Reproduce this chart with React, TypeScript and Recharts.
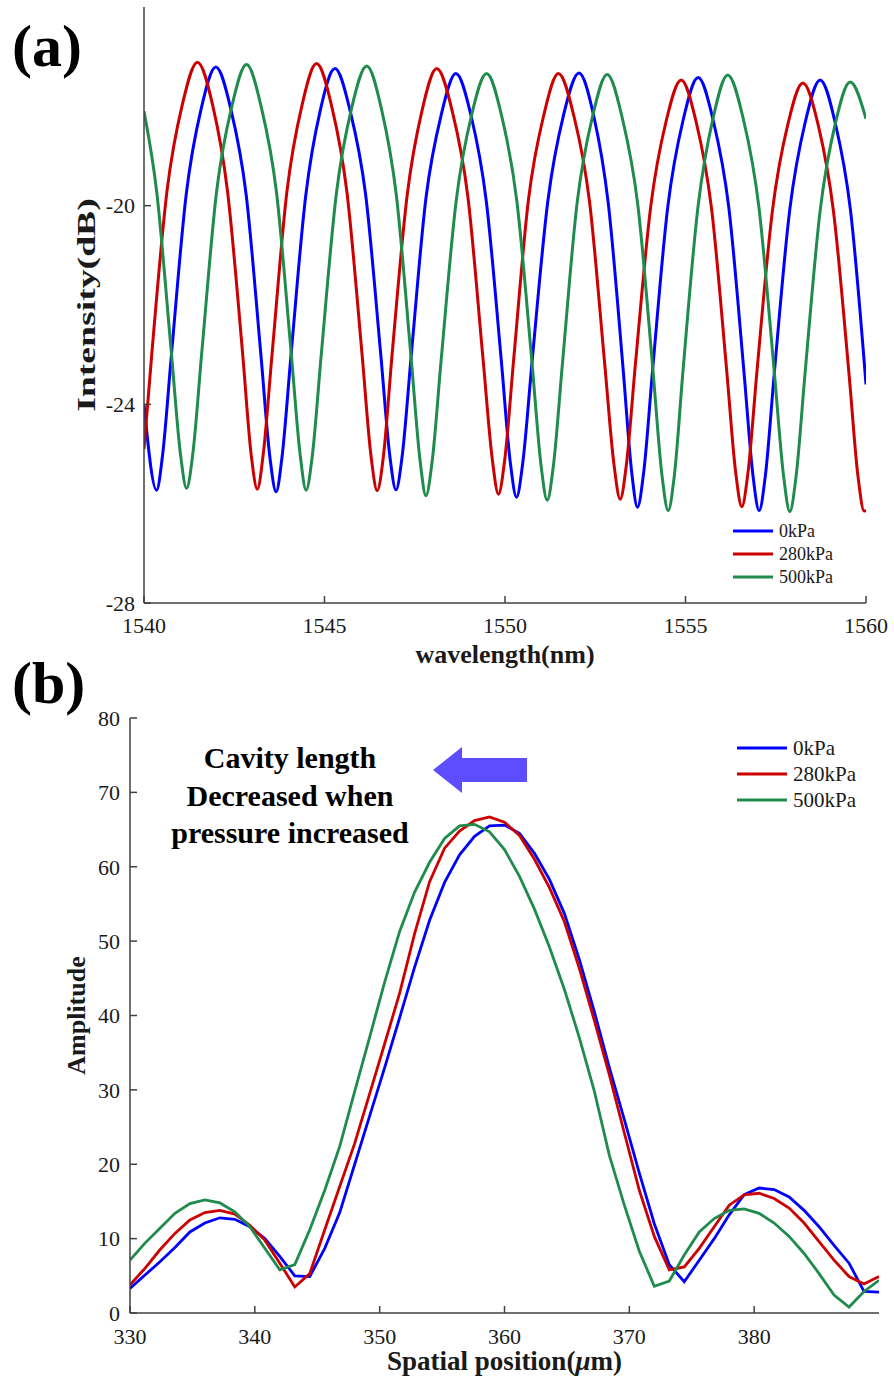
import React from 'react';
import { LineChart, Line, XAxis, YAxis, Legend, Label } from 'recharts';

const FONT = "'Liberation Serif', 'Times New Roman', Times, serif";
const AXIS = '#404040';
const TXT = '#1a1a1a';
const BLUE = '#0000ff';
const RED = '#cc0000';
const GREEN = '#1f8b4c';

// ---------- (a) spectrum ----------
const wavelengthTicks = [1540, 1545, 1550, 1555, 1560];
const intensityTicks = [-28, -24, -20];

const wl0kPa = [1540.00, 1540.35, 1540.51, 1540.76, 1541.17, 1541.58, 1541.99, 1542.41, 1542.83, 1543.24, 1543.49, 1543.66, 1543.82, 1544.07, 1544.48, 1544.88, 1545.29, 1545.71, 1546.14, 1546.56, 1546.81, 1546.98, 1547.15, 1547.40, 1547.81, 1548.23, 1548.64, 1549.06, 1549.48, 1549.90, 1550.15, 1550.32, 1550.49, 1550.75, 1551.19, 1551.62, 1552.05, 1552.46, 1552.86, 1553.27, 1553.51, 1553.67, 1553.84, 1554.09, 1554.51, 1554.93, 1555.35, 1555.77, 1556.20, 1556.62, 1556.87, 1557.04, 1557.21, 1557.46, 1557.89, 1558.31, 1558.73, 1559.15, 1559.57, 1560.00];
const db0kPa = [-24.00, -25.73, -25.05, -23.00, -19.77, -18.06, -17.21, -18.07, -19.78, -23.02, -25.08, -25.76, -25.08, -23.03, -19.80, -18.09, -17.24, -18.09, -19.78, -23.01, -25.04, -25.72, -25.05, -23.04, -19.85, -18.18, -17.34, -18.19, -19.90, -23.14, -25.19, -25.87, -25.19, -23.14, -19.89, -18.18, -17.33, -18.20, -19.95, -23.27, -25.37, -26.07, -25.38, -23.30, -20.02, -18.29, -17.42, -18.29, -20.04, -23.35, -25.44, -26.14, -25.45, -23.37, -20.07, -18.34, -17.47, -18.34, -20.09, -23.60];

const wl280kPa = [1540.00, 1540.22, 1540.64, 1541.06, 1541.48, 1541.90, 1542.31, 1542.73, 1542.97, 1543.14, 1543.30, 1543.55, 1543.96, 1544.37, 1544.78, 1545.20, 1545.62, 1546.04, 1546.29, 1546.46, 1546.63, 1546.87, 1547.29, 1547.70, 1548.11, 1548.54, 1548.97, 1549.39, 1549.65, 1549.82, 1549.99, 1550.24, 1550.65, 1551.07, 1551.48, 1551.91, 1552.34, 1552.76, 1553.02, 1553.19, 1553.36, 1553.61, 1554.04, 1554.46, 1554.88, 1555.30, 1555.72, 1556.14, 1556.39, 1556.56, 1556.73, 1556.98, 1557.41, 1557.83, 1558.25, 1558.68, 1559.10, 1559.53, 1559.78, 1559.95, 1560.00];
const db280kPa = [-24.90, -22.95, -19.69, -17.97, -17.11, -17.97, -19.69, -22.96, -25.02, -25.71, -25.02, -22.97, -19.71, -18.00, -17.14, -18.00, -19.72, -22.99, -25.05, -25.74, -25.06, -23.02, -19.79, -18.09, -17.24, -18.10, -19.81, -23.07, -25.12, -25.81, -25.13, -23.10, -19.88, -18.19, -17.34, -18.20, -19.91, -23.17, -25.22, -25.91, -25.23, -23.21, -20.00, -18.31, -17.47, -18.33, -20.05, -23.31, -25.37, -26.06, -25.38, -23.33, -20.09, -18.38, -17.53, -18.39, -20.12, -23.39, -25.46, -26.15, -26.13];

const wl500kPa = [1540.00, 1540.35, 1540.76, 1541.01, 1541.18, 1541.35, 1541.60, 1542.01, 1542.43, 1542.84, 1543.25, 1543.67, 1544.08, 1544.33, 1544.49, 1544.66, 1544.91, 1545.33, 1545.75, 1546.17, 1546.58, 1546.99, 1547.40, 1547.65, 1547.81, 1547.98, 1548.23, 1548.65, 1549.07, 1549.49, 1549.91, 1550.33, 1550.75, 1551.00, 1551.17, 1551.34, 1551.59, 1552.00, 1552.42, 1552.83, 1553.25, 1553.68, 1554.10, 1554.35, 1554.52, 1554.69, 1554.93, 1555.35, 1555.76, 1556.17, 1556.60, 1557.03, 1557.46, 1557.72, 1557.89, 1558.06, 1558.31, 1558.73, 1559.14, 1559.56, 1560.00];
const db500kPa = [-18.10, -19.71, -22.98, -25.00, -25.69, -25.01, -22.96, -19.72, -18.01, -17.16, -18.02, -19.73, -22.99, -25.04, -25.73, -25.05, -23.00, -19.75, -18.04, -17.19, -18.06, -19.79, -23.07, -25.15, -25.84, -25.16, -23.12, -19.89, -18.19, -17.34, -18.20, -19.92, -23.18, -25.24, -25.93, -25.24, -23.19, -19.93, -18.22, -17.36, -18.24, -19.99, -23.33, -25.44, -26.14, -25.44, -23.33, -20.00, -18.25, -17.37, -18.25, -20.01, -23.35, -25.46, -26.16, -25.47, -23.39, -20.10, -18.38, -17.51, -18.25];

// ---------- (b) spatial spectrum ----------
const positionTicks = [330, 340, 350, 360, 370, 380];
const amplitudeTicks = [0, 10, 20, 30, 40, 50, 60, 70, 80];
const positions = [330.0, 331.2, 332.4, 333.6, 334.8, 336.0, 337.2, 338.4, 339.6, 340.8, 342.0, 343.2, 344.4, 345.6, 346.8, 348.0, 349.2, 350.4, 351.6, 352.8, 354.0, 355.2, 356.4, 357.6, 358.8, 360.0, 361.2, 362.4, 363.6, 364.8, 366.0, 367.2, 368.4, 369.6, 370.8, 372.0, 373.2, 374.4, 375.6, 376.8, 378.0, 379.2, 380.4, 381.6, 382.8, 384.0, 385.2, 386.4, 387.6, 388.8, 390.0];
const amp0kPa = [3.3, 5.1, 6.9, 8.8, 10.9, 12.1, 12.8, 12.6, 11.6, 10.0, 7.6, 5.0, 4.9, 8.7, 13.5, 20.0, 26.5, 33.0, 39.7, 46.5, 52.8, 57.9, 61.6, 64.1, 65.5, 65.6, 64.5, 61.8, 58.3, 53.7, 47.5, 40.5, 33.0, 26.0, 18.8, 12.0, 6.5, 4.2, 7.1, 10.0, 13.2, 15.9, 16.8, 16.6, 15.6, 13.8, 11.6, 9.1, 6.7, 2.9, 2.8];
const amp280kPa = [3.8, 6.0, 8.5, 10.7, 12.5, 13.5, 13.8, 13.3, 11.8, 9.8, 6.7, 3.5, 5.3, 11.2, 17.0, 22.8, 29.5, 36.2, 43.0, 51.0, 58.0, 62.5, 64.8, 66.2, 66.7, 66.0, 64.2, 61.0, 57.2, 52.6, 46.3, 39.3, 32.0, 24.2, 16.5, 10.3, 5.8, 6.2, 8.7, 11.6, 14.5, 15.9, 16.1, 15.4, 14.1, 12.1, 9.6, 7.1, 4.9, 3.9, 4.9];
const amp500kPa = [7.1, 9.4, 11.4, 13.4, 14.7, 15.2, 14.8, 13.6, 11.6, 8.7, 5.8, 6.5, 11.2, 16.5, 22.4, 29.8, 37.1, 44.5, 51.3, 56.6, 60.6, 63.8, 65.5, 65.7, 64.7, 62.3, 58.7, 54.3, 49.2, 43.5, 37.0, 29.8, 21.2, 14.5, 8.3, 3.6, 4.3, 7.8, 10.9, 12.7, 13.8, 14.0, 13.4, 12.1, 10.3, 8.0, 5.3, 2.4, 0.8, 2.9, 4.4];

const seriesNames = ['0kPa', '280kPa', '500kPa'];
const seriesColors = [BLUE, RED, GREEN];

const toPoints = (xs: number[], ys: number[]) => xs.map((w, i) => ({ w, v: ys[i] }));
const specA = [toPoints(wl0kPa, db0kPa), toPoints(wl280kPa, db280kPa), toPoints(wl500kPa, db500kPa)];
const dataB = positions.map((p, i) => ({ p, a0: amp0kPa[i], a280: amp280kPa[i], a500: amp500kPa[i] }));

const makeLegend = (lineLen: number, fontSize: number, rowH: number, strokeW: number) => (props: any) => {
  const payload = (props.payload || []).filter((e: any) => seriesNames.includes(e.value));
  return (
    <svg width={160} height={rowH * 3 + 10} style={{ display: 'block' }}>
      {payload.map((e: any, i: number) => (
        <g key={e.value}>
          <line x1={4} x2={4 + lineLen} y1={12 + i * rowH} y2={12 + i * rowH} stroke={e.color} strokeWidth={strokeW} />
          <text x={10 + lineLen} y={12 + i * rowH} dy="0.34em" fontFamily={FONT} fontSize={fontSize} fill={TXT}>{e.value}</text>
        </g>
      ))}
    </svg>
  );
};

const xTitle = (text: React.ReactNode, dy: number, size: number) => (props: any) => {
  const vb = props.viewBox || {};
  return (
    <text x={vb.x + vb.width / 2} y={vb.y + dy} textAnchor="middle" fontFamily={FONT} fontWeight="bold" fontSize={size} fill={TXT}>{text}</text>
  );
};
const yTitle = (text: string, bx: number, size: number, stretch: number) => (props: any) => {
  const vb = props.viewBox || {};
  const cy = vb.y + vb.height / 2;
  return (
    <text x={0} y={0} textAnchor="middle" transform={`translate(${bx} ${cy}) rotate(-90) scale(${stretch} 1)`} fontFamily={FONT} fontWeight="bold" fontSize={size} fill={TXT}>{text}</text>
  );
};

export default function App() {
  const tickA = { fontSize: 22, fill: TXT, fontFamily: FONT };
  const tickB = { fontSize: 22, fill: TXT, fontFamily: FONT };
  return (
    <div style={{ position: 'relative', width: 894, height: 1384, background: '#fff', overflow: 'hidden' }}>
      <style>{'body{margin:0;background:#fff}'}</style>
      <div style={{ position: 'absolute', left: 0, top: 0 }}>
        <LineChart width={894} height={680} margin={{ top: 7, right: 28, bottom: 7, left: 44 }}>
          <XAxis dataKey="w" type="number" domain={[1540, 1560]} ticks={wavelengthTicks} interval={0} allowDataOverflow
            height={70} tickSize={-7} tickMargin={21} tick={tickA}
            axisLine={{ stroke: AXIS, strokeWidth: 1.5 }} tickLine={{ stroke: AXIS, strokeWidth: 1.5 }}>
            <Label content={xTitle('wavelength(nm)', 60, 26)} />
          </XAxis>
          <XAxis xAxisId="top" orientation="top" type="number" domain={[1540, 1560]} ticks={wavelengthTicks} interval={0} allowDataOverflow
            height={0} tickSize={-7} tick={false} axisLine={{ stroke: AXIS, strokeWidth: 1.5 }} tickLine={{ stroke: AXIS, strokeWidth: 1.5 }} />
          <YAxis type="number" domain={[-28, -16]} ticks={intensityTicks} interval={0} allowDataOverflow width={100}
            tickSize={-7} tickMargin={16} tick={tickA}
            axisLine={{ stroke: AXIS, strokeWidth: 1.5 }} tickLine={{ stroke: AXIS, strokeWidth: 1.5 }}>
            <Label content={yTitle('Intensity(dB)', 95, 26, 1.45)} />
          </YAxis>
          <YAxis yAxisId="right" orientation="right" type="number" domain={[-28, -16]} ticks={intensityTicks} interval={0} allowDataOverflow width={0}
            tickSize={-7} tick={false} axisLine={{ stroke: AXIS, strokeWidth: 1.5 }} tickLine={{ stroke: AXIS, strokeWidth: 1.5 }} />
          {specA.map((d, i) => (
            <Line key={seriesNames[i]} data={d} dataKey="v" name={seriesNames[i]} type="monotone" stroke={seriesColors[i]}
              strokeWidth={3} dot={false} activeDot={false} isAnimationActive={false} />
          ))}
          <Legend layout="vertical" verticalAlign="middle" align="center" content={makeLegend(40, 18, 23, 3)}
            wrapperStyle={{ position: 'absolute', left: 729, top: 519, width: 160, height: 80 }} />
        </LineChart>
      </div>

      <div style={{ position: 'absolute', left: 0, top: 680 }}>
        <LineChart width={894} height={704} data={dataB} margin={{ top: 38, right: 15, bottom: 11, left: 30 }}>
          <XAxis dataKey="p" type="number" domain={[330, 390]} ticks={positionTicks} interval={0} allowDataOverflow
            height={60} tickSize={-7} tickMargin={22} tick={tickB}
            axisLine={{ stroke: AXIS, strokeWidth: 1.5 }} tickLine={{ stroke: AXIS, strokeWidth: 1.5 }}>
            <Label content={xTitle(<>{'Spatial position('}<tspan fontStyle="italic">μ</tspan>{'m)'}</>, 57, 27)} />
          </XAxis>
          <XAxis xAxisId="top" orientation="top" type="number" domain={[330, 390]} ticks={positionTicks} interval={0} allowDataOverflow
            height={0} tickSize={-7} tick={false} axisLine={{ stroke: AXIS, strokeWidth: 1.5 }} tickLine={{ stroke: AXIS, strokeWidth: 1.5 }} />
          <YAxis type="number" domain={[0, 80]} ticks={amplitudeTicks} interval={0} allowDataOverflow width={100}
            tickSize={-7} tickMargin={17} tick={tickB}
            axisLine={{ stroke: AXIS, strokeWidth: 1.5 }} tickLine={{ stroke: AXIS, strokeWidth: 1.5 }}>
            <Label content={yTitle('Amplitude', 85, 26, 1)} />
          </YAxis>
          <YAxis yAxisId="right" orientation="right" type="number" domain={[0, 80]} ticks={amplitudeTicks} interval={0} allowDataOverflow width={0}
            tickSize={-7} tick={false} axisLine={{ stroke: AXIS, strokeWidth: 1.5 }} tickLine={{ stroke: AXIS, strokeWidth: 1.5 }} />
          <Line dataKey="a0" name="0kPa" type="linear" stroke={BLUE} strokeWidth={2.8} dot={false} activeDot={false} isAnimationActive={false} />
          <Line dataKey="a280" name="280kPa" type="linear" stroke={RED} strokeWidth={2.8} dot={false} activeDot={false} isAnimationActive={false} />
          <Line dataKey="a500" name="500kPa" type="linear" stroke={GREEN} strokeWidth={2.8} dot={false} activeDot={false} isAnimationActive={false} />
          <Legend layout="vertical" verticalAlign="middle" align="center" content={makeLegend(50, 21, 26, 3)}
            wrapperStyle={{ position: 'absolute', left: 733, top: 56, width: 160, height: 90 }} />
        </LineChart>
      </div>

      <svg width={894} height={1384} style={{ position: 'absolute', left: 0, top: 0, pointerEvents: 'none' }}>
        <text x={12} y={66} fontFamily={FONT} fontWeight="bold" fontSize={60} fill="#000">(a)</text>
        <text x={12} y={703} fontFamily={FONT} fontWeight="bold" fontSize={60} fill="#000">(b)</text>
        <g fontFamily={FONT} fontWeight="bold" fontSize={30} fill="#000" textAnchor="middle">
          <text x={290} y={768}>Cavity length</text>
          <text x={290} y={806}>Decreased when</text>
          <text x={290} y={843}>pressure increased</text>
        </g>
        <polygon points="433,770 462,747 462,758 527,758 527,782 462,782 462,793" fill="#5c4dff" />
      </svg>
    </div>
  );
}
